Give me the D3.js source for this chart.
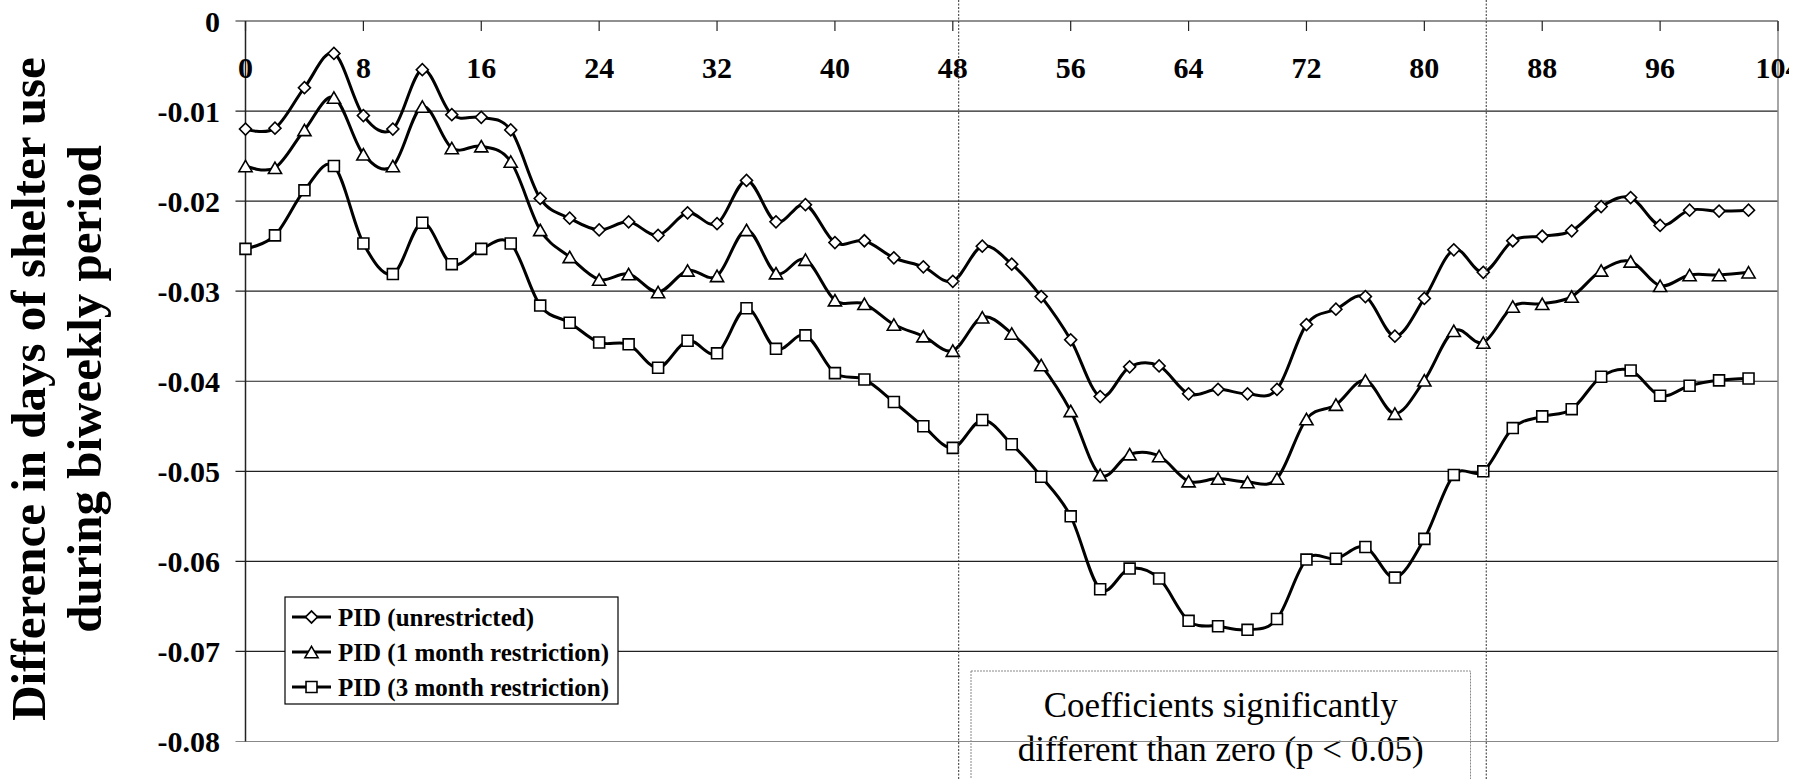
<!DOCTYPE html>
<html>
<head>
<meta charset="utf-8">
<script src="https://cdn.jsdelivr.net/npm/d3@7"></script>
<style>
  html, body { margin: 0; padding: 0; background: #fff; }
  svg { display: block; }
  text { font-family: "Liberation Serif", "Times New Roman", Times, serif; }
</style>
</head>
<body>
<svg id="chart" width="1810" height="779"></svg>
<script>
// ---------------- data ----------------
const weeks = d3.range(0, 104, 2); // 0,2,...,102
const seriesNames = ["PID (unrestricted)", "PID (1 month restriction)", "PID (3 month restriction)"];
const unrestricted = [-0.0120,-0.0119,-0.0074,-0.0036,-0.0105,-0.0120,-0.0054,-0.0104,-0.0107,-0.0121,
  -0.0197,-0.0219,-0.0232,-0.0223,-0.0238,-0.0213,-0.0225,-0.0177,-0.0223,-0.0204,
  -0.0246,-0.0244,-0.0263,-0.0273,-0.0289,-0.0250,-0.0270,-0.0306,-0.0354,-0.0417,
  -0.0384,-0.0383,-0.0414,-0.0409,-0.0414,-0.0409,-0.0337,-0.0320,-0.0306,-0.0350,
  -0.0308,-0.0254,-0.0279,-0.0244,-0.0239,-0.0233,-0.0206,-0.0196,-0.0227,-0.0210,
  -0.0211,-0.0210];
const oneMonth = [-0.0161,-0.0163,-0.0121,-0.0085,-0.0148,-0.0161,-0.0095,-0.0141,-0.0139,-0.0156,
  -0.0232,-0.0262,-0.0287,-0.0281,-0.0301,-0.0277,-0.0283,-0.0232,-0.0280,-0.0265,
  -0.0310,-0.0314,-0.0337,-0.0350,-0.0366,-0.0329,-0.0347,-0.0382,-0.0433,-0.0504,
  -0.0481,-0.0483,-0.0511,-0.0508,-0.0512,-0.0508,-0.0442,-0.0426,-0.0399,-0.0436,
  -0.0399,-0.0344,-0.0357,-0.0317,-0.0314,-0.0306,-0.0277,-0.0267,-0.0294,-0.0282,
  -0.0282,-0.0279];
const threeMonth = [-0.0253,-0.0238,-0.0188,-0.0161,-0.0247,-0.0281,-0.0224,-0.0270,-0.0253,-0.0247,
  -0.0316,-0.0335,-0.0357,-0.0359,-0.0385,-0.0355,-0.0369,-0.0319,-0.0364,-0.0349,
  -0.0391,-0.0398,-0.0423,-0.0450,-0.0474,-0.0443,-0.0470,-0.0506,-0.0550,-0.0631,
  -0.0608,-0.0619,-0.0666,-0.0672,-0.0676,-0.0664,-0.0598,-0.0597,-0.0584,-0.0618,
  -0.0575,-0.0504,-0.0500,-0.0452,-0.0439,-0.0431,-0.0395,-0.0388,-0.0416,-0.0405,
  -0.0399,-0.0397];
const xTicks = [0,8,16,24,32,40,48,56,64,72,80,88,96,104];
const yTicks = [0,-0.01,-0.02,-0.03,-0.04,-0.05,-0.06,-0.07,-0.08];
const significanceBounds = [48.4, 84.2];
const yTitleLines = ["Difference in days of shelter use", "during biweekly period"];
const noteLines = ["Coefficients significantly", "different than zero (p < 0.05)"];

// ---------------- layout ----------------
const svg = d3.select("#chart");
const W = 1810, H = 779;
const x = d3.scaleLinear().domain([0, 104]).range([245.5, 1778]);
const y = d3.scaleLinear().domain([0, -0.08]).range([21, 741.5]);
// diamond = square rotated 45deg; triangle shifted so its box is centred
const markerTypes = [d3.symbolSquare, d3.symbolTriangle, d3.symbolSquare];
const markerSizes = [72, 75, 120];
const markerRot = [45, 0, 0];
const markerDy = [0, 1.9, 0];
const data = [unrestricted, oneMonth, threeMonth];

svg.append("rect").attr("width", W).attr("height", H).attr("fill", "#fff");

// annotation box (drawn beneath gridlines)
const boxX0 = 971, boxX1 = 1470.5, boxY0 = 671;
svg.append("rect")
  .attr("x", boxX0).attr("y", boxY0)
  .attr("width", boxX1 - boxX0).attr("height", H - boxY0 + 10)
  .attr("fill", "none").attr("stroke", "#888").attr("stroke-width", 1)
  .attr("stroke-dasharray", "2,1");
svg.append("g").selectAll("text").data(noteLines).join("text")
  .attr("x", (boxX0 + boxX1) / 2)
  .attr("y", (d, i) => 717 + i * 43.5)
  .attr("text-anchor", "middle")
  .attr("font-size", 35)
  .attr("fill", "#000")
  .text(d => d);

// gridlines
svg.append("g").selectAll("line").data(yTicks).join("line")
  .attr("x1", x(0) - 10).attr("x2", x(104))
  .attr("y1", d => y(d)).attr("y2", d => y(d))
  .attr("stroke", (d, i) => i === yTicks.length - 1 ? "#888" : "#222")
  .attr("stroke-width", 1.2);

// right border
svg.append("line")
  .attr("x1", x(104)).attr("x2", x(104)).attr("y1", y(0)).attr("y2", y(-0.08))
  .attr("stroke", "#888").attr("stroke-width", 1.5);

// left axis line
svg.append("line")
  .attr("x1", x(0)).attr("x2", x(0)).attr("y1", y(0)).attr("y2", y(-0.08))
  .attr("stroke", "#222").attr("stroke-width", 1.5);

// top x axis ticks (pointing down)
svg.append("g").selectAll("line").data(xTicks).join("line")
  .attr("x1", d => x(d)).attr("x2", d => x(d))
  .attr("y1", y(0)).attr("y2", y(0) + 10)
  .attr("stroke", "#222").attr("stroke-width", 1.2);

// x tick labels (clipped at right edge)
svg.append("clipPath").attr("id", "xlabclip")
  .append("rect").attr("x", 0).attr("y", 0).attr("width", 1789).attr("height", H);
svg.append("g").attr("clip-path", "url(#xlabclip)")
  .selectAll("text").data(xTicks).join("text")
  .attr("x", d => x(d)).attr("y", 78)
  .attr("text-anchor", "middle")
  .attr("font-size", 30).attr("font-weight", "bold")
  .text(d => d);

// y tick labels
svg.append("g").selectAll("text").data(yTicks).join("text")
  .attr("x", 220).attr("y", d => y(d))
  .attr("text-anchor", "end").attr("dominant-baseline", "central")
  .attr("font-size", 30).attr("font-weight", "bold")
  .text(d => d === 0 ? "0" : d3.format(".2f")(d).replace("−", "-"));

// y title
const yTitle = svg.append("g").attr("transform", "translate(0,389) rotate(-90)");
yTitle.selectAll("text").data(yTitleLines).join("text")
  .attr("x", 0).attr("y", (d, i) => 45 + i * 56)
  .attr("text-anchor", "middle")
  .attr("font-size", 49).attr("font-weight", "bold")
  .text(d => d);

// series lines
const line = d3.line()
  .x((d, i) => x(weeks[i]))
  .y(d => y(d))
  .curve(d3.curveCardinal.tension(0));
svg.append("g").selectAll("path").data(data).join("path")
  .attr("d", d => line(d))
  .attr("fill", "none").attr("stroke", "#000").attr("stroke-width", 3);

// markers
data.forEach((vals, s) => {
  const sym = d3.symbol().type(markerTypes[s]).size(markerSizes[s]);
  svg.append("g").selectAll("path").data(vals).join("path")
    .attr("transform", (d, i) => `translate(${x(weeks[i])},${y(d) + markerDy[s]}) rotate(${markerRot[s]})`)
    .attr("d", sym)
    .attr("fill", "#fff").attr("stroke", "#000").attr("stroke-width", 1.6);
});

// significance dotted vertical lines
svg.append("g").selectAll("line").data(significanceBounds).join("line")
  .attr("x1", d => x(d)).attr("x2", d => x(d))
  .attr("y1", 0).attr("y2", H)
  .attr("stroke", "#333").attr("stroke-width", 1)
  .attr("stroke-dasharray", "2,1.5");

// legend
const lg = svg.append("g");
lg.append("rect").attr("x", 285).attr("y", 597).attr("width", 333).attr("height", 107)
  .attr("fill", "#fff").attr("stroke", "#000").attr("stroke-width", 1.2);
seriesNames.forEach((name, s) => {
  const cy = 617 + s * 35;
  lg.append("line").attr("x1", 292).attr("x2", 331).attr("y1", cy).attr("y2", cy)
    .attr("stroke", "#000").attr("stroke-width", 3);
  lg.append("path").attr("transform", `translate(311.5,${cy + markerDy[s]}) rotate(${markerRot[s]})`)
    .attr("d", d3.symbol().type(markerTypes[s]).size(markerSizes[s]))
    .attr("fill", "#fff").attr("stroke", "#000").attr("stroke-width", 1.6);
  lg.append("text").attr("x", 338).attr("y", cy).attr("dominant-baseline", "central")
    .attr("font-size", 25).attr("font-weight", "bold").text(name);
});
</script>
</body>
</html>
